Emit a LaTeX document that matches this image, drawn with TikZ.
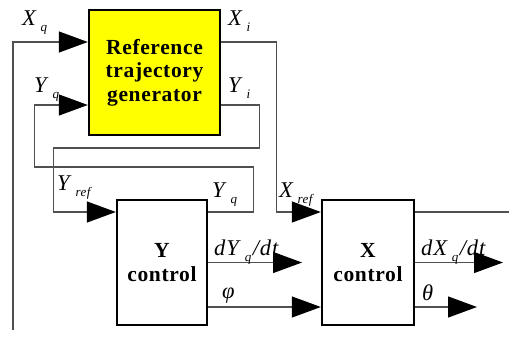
\documentclass[tikz,border=0pt]{standalone}
\usepackage{fontspec}
\setmainfont{Liberation Serif}
\usetikzlibrary{arrows.meta,positioning}
\definecolor{wirecol}{HTML}{505050}
\definecolor{genfill}{HTML}{FFFF00}
% signal name with its lowered index
\newcommand{\sig}[2]{\textit{#1}\kern3pt\raisebox{-6pt}{\fontsize{13}{13}\selectfont\textit{#2}}}
\tikzset{
  blockbox/.style={
    draw=black,
    line width=2.4pt,
    align=center,
    inner sep=0pt,
    font=\fontsize{21.5}{23.5}\selectfont\bfseries\addfontfeature{LetterSpace=3}
  },
  genbox/.style={blockbox, fill=genfill, minimum width=131pt, minimum height=125pt},
  ctrlbox/.style={blockbox, fill=white, minimum width=90pt, minimum height=125pt},
  wire/.style={draw=wirecol, line width=1.3pt},
  sigarr/.style={wire, -{Triangle[length=29pt,width=21pt,fill=black,color=black]}},
  lbl/.style={font=\fontsize{22.5}{22.5}\selectfont\addfontfeature{LetterSpace=4}, inner sep=0pt, anchor=base west},
}
\begin{document}
\begin{tikzpicture}[x=1pt, y=-1pt]
  \useasboundingbox (0,0) rectangle (509,341);

  % blocks
  \node[genbox] (gen) at (154.5,72.5) {Reference\\trajectory\\generator};
  \node[ctrlbox] (yctl) at (162,262.5) {Y\\control};
  \node[ctrlbox, minimum width=92pt] (xctl) at (368,262.5) {X\\control};

  % free ends
  \coordinate (xqfree) at (13,330);
  \coordinate (xout) at (509,212);
  \coordinate (dyq) at (302,262.5);
  \coordinate (dxq) at (503,262.5);
  \coordinate (thout) at (477,307);

  % X loop
  \draw[sigarr] (xqfree) |- ([yshift=30.5pt]gen.west);
  \draw[sigarr] ([yshift=30.5pt]gen.east) -- ++(55,0) |- ([yshift=50.5pt]xctl.west);
  \draw[wire] ([yshift=50.5pt]xctl.east) -- (xout);

  % Y loop
  \draw[sigarr] ([yshift=-32.5pt]gen.east) -- ++(38,0) -- ++(0,43) -- ++(-206,0)
    |- ([yshift=50.5pt]yctl.west);
  \draw[sigarr] ([yshift=50.5pt]yctl.east) -- ++(45,0) -- ++(0,-45) -- ++(-219,0)
    |- ([yshift=-32.5pt]gen.west);

  % outputs
  \draw[sigarr] (yctl.east) -- (dyq);
  \draw[sigarr] ([yshift=-44.5pt]yctl.east) -- ([yshift=-44.5pt]xctl.west);
  \draw[sigarr] (xctl.east) -- (dxq);
  \draw[sigarr] ([yshift=-44.5pt]xctl.east) -- (thout);

  % labels
  \node[lbl] (lxq) at (22,25) {\sig{X}{q}};
  \node[lbl] (lxi) at (228,25) {\sig{X}{i}};
  \node[lbl] (lyq) at (34,92) {\sig{Y}{q}};
  \node[lbl] (lyi) at (228,92) {\sig{Y}{i}};
  \node[lbl] (lyref) at (57,190) {\sig{Y}{ref}};
  \node[lbl] (lyq2) at (212,197) {\sig{Y}{q}};
  \node[lbl] (lxref) at (279,197) {\sig{X}{ref}};
  \node[lbl] (ldy) at (214,255) {\textit{d}\sig{Y}{q}\kern1pt\textit{/dt}};
  \node[lbl] (lphi) at (222,298) {\textit{φ}};
  \node[lbl] (ldx) at (421,255) {\textit{d}\sig{X}{q}\kern1pt\textit{/dt}};
  \node[lbl] (lth) at (422,300) {\textit{θ}};
\end{tikzpicture}
\end{document}
